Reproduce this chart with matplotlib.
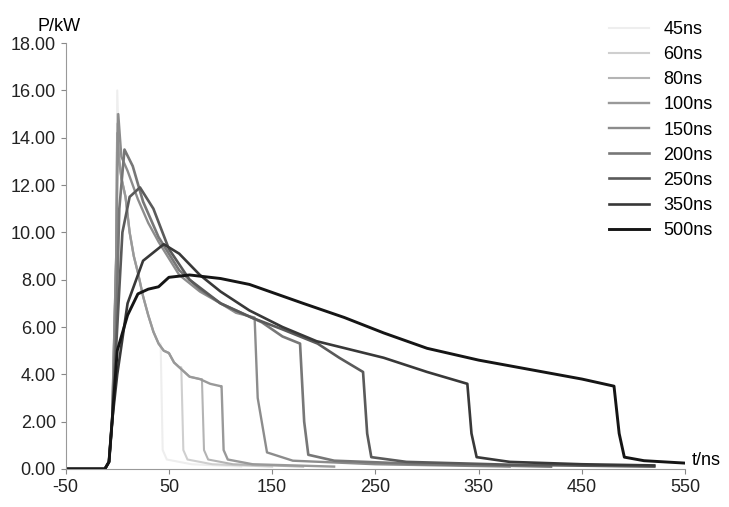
import matplotlib
matplotlib.use('Agg')
import matplotlib.pyplot as plt

plt.rcParams['font.family'] = ['Liberation Sans', 'DejaVu Sans']
plt.rcParams['axes.unicode_minus'] = False

labels = ['45ns', '60ns', '80ns', '100ns', '150ns', '200ns', '250ns', '350ns', '500ns']
colors = ['#eeeeee', '#cfcfcf', '#b4b4b4', '#999999', '#8c8c8c', '#777777', '#5a5a5a', '#383838', '#151515']
widths = [1.5, 1.5, 1.5, 1.7, 1.7, 1.9, 1.9, 1.9, 2.1]

# waypoints (t, P)
rise = [(-50, 0), (-12, 0), (-8, 0.3), (-5, 2.0)]
short_decay = [(8, 11.5), (12, 10.0), (16, 9.0), (20, 8.3), (25, 7.3), (30, 6.5), (35, 5.8), (40, 5.3),
               (45, 5.0), (50, 4.9), (55, 4.5), (60, 4.3), (65, 4.1), (70, 3.9), (80, 3.8), (90, 3.6), (100, 3.5)]

def short_pulse(end, peak, tail_end):
    pts = rise + [(-1, 9), (0, peak), (2, 13), (4, 12.3)]
    pts += [p for p in short_decay if p[0] < end]
    lvl = [p[1] for p in short_decay if p[0] <= end][-1]
    pts += [(end, lvl), (end + 2, 0.8), (end + 6, 0.4), (end + 30, 0.2), (tail_end, 0.1)]
    return pts

t45 = short_pulse(42, 16.0, 120)
t60 = short_pulse(62, 15.0, 150)
t80 = short_pulse(82, 14.6, 180)
t100 = short_pulse(101, 14.2, 210)
t150 = rise + [(-1, 9), (1, 15.0), (4, 13.2), (10, 12.6), (20, 11.4), (30, 10.4), (40, 9.6), (50, 8.9),
               (60, 8.2), (80, 7.5), (100, 7.0), (115, 6.6), (133, 6.4), (136, 3.0), (145, 0.7),
               (170, 0.35), (250, 0.2), (380, 0.1)]
t200 = rise + [(-1, 6), (2, 11), (7, 13.5), (15, 12.8), (25, 11.3), (40, 9.8), (60, 8.4), (80, 7.6),
               (100, 7.0), (120, 6.6), (140, 6.2), (160, 5.6), (177, 5.3), (181, 2.0), (185, 0.6),
               (210, 0.35), (300, 0.2), (420, 0.1)]
t250 = rise + [(0, 6.0), (5, 10.0), (12, 11.5), (22, 11.9), (35, 11.0), (50, 9.3), (70, 8.0), (100, 7.0),
               (130, 6.4), (160, 5.9), (194, 5.3), (215, 4.7), (238, 4.1), (242, 1.5), (246, 0.5),
               (280, 0.3), (380, 0.18), (520, 0.1)]
t350 = rise + [(0, 4.0), (10, 7.0), (25, 8.8), (45, 9.5), (60, 9.1), (80, 8.2), (100, 7.5), (128, 6.7),
               (160, 6.0), (193, 5.4), (258, 4.7), (300, 4.1), (339, 3.6), (343, 1.5), (348, 0.5),
               (380, 0.3), (450, 0.2), (520, 0.15)]
t500 = rise + [(0, 5.0), (10, 6.5), (20, 7.4), (30, 7.6), (40, 7.7), (50, 8.1), (70, 8.2), (100, 8.05),
               (128, 7.8), (180, 7.0), (220, 6.4), (258, 5.75), (300, 5.1), (350, 4.6), (400, 4.2),
               (450, 3.8), (481, 3.5), (486, 1.5), (491, 0.5), (510, 0.35), (549, 0.25)]
series = [t45, t60, t80, t100, t150, t200, t250, t350, t500]

fig, ax = plt.subplots(figsize=(7.29, 5.07), dpi=100)
fig.subplots_adjust(left=0.09, right=0.94, top=0.915, bottom=0.075)

for pts, lab, c, w in zip(series, labels, colors, widths):
    ax.plot([p[0] for p in pts], [p[1] for p in pts], color=c, lw=w, label=lab)

ax.set_xlim(-50, 550)
ax.set_ylim(0, 18)
ax.set_xticks(range(-50, 551, 100))
ax.set_yticks(range(0, 19, 2))
ax.set_yticklabels([f'{v:.2f}' for v in range(0, 19, 2)])
ax.tick_params(labelsize=13, colors='#888888', labelcolor='#222222')
for s in ['top', 'right']:
    ax.spines[s].set_visible(False)
for s in ['left', 'bottom']:
    ax.spines[s].set_color('#999999')

ax.text(-0.01, 1.02, 'P/kW', transform=ax.transAxes, fontsize=13, ha='center', va='bottom')
ax.text(1.01, 0.0, 't/ns', transform=ax.transAxes, fontsize=13, ha='left', va='bottom')

ax.legend(loc='upper right', bbox_to_anchor=(1.07, 1.09), frameon=False, fontsize=13,
          handlelength=2.2, labelspacing=0.45)

fig.savefig('out.png')
